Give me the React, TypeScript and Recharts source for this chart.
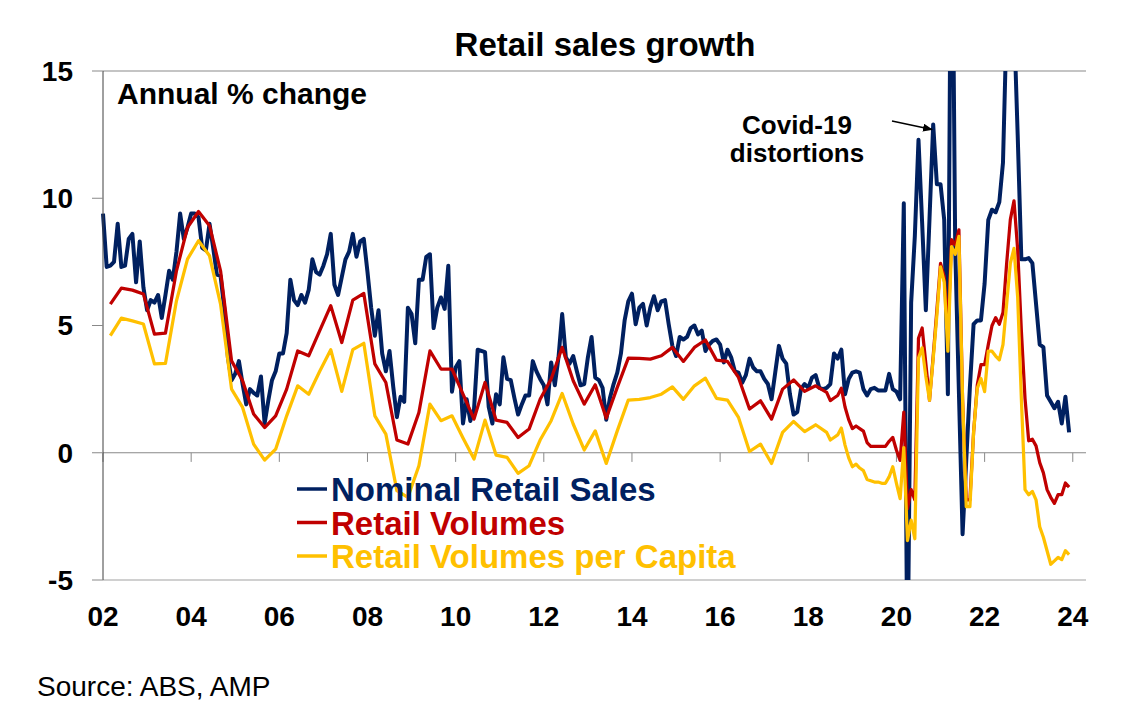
import React from "react";
import { Line, LineChart, ReferenceLine, XAxis, YAxis } from "recharts";

const FONT = '"Liberation Sans", Arial, Helvetica, sans-serif';

const START_YEAR = 2002;
// volumes are quarterly (Mar, Jun, Sep, Dec) up to Jun 2018, monthly after that
const MONTHLY_FROM = 198;

// Nominal retail sales, annual % change, Jan 2002 - Dec 2023
const nominalSales = [
    9.4, 7.3, 7.35, 7.5, 9.0, 7.3, 7.35, 8.4, 8.6, 6.7,
    8.3, 6.5, 5.6, 6.0, 5.9, 6.2, 5.3, 6.2, 7.15, 6.8,
    7.9, 9.4, 8.4, 8.85, 9.4, 9.4, 9.25, 8.05, 7.95, 9.0,
    8.05, 7.0, 6.95, 5.7, 3.75, 2.85, 3.1, 3.6, 2.7, 1.9,
    2.5, 2.35, 2.25, 3.0, 1.15, 2.05, 2.85, 3.2, 3.9, 3.9,
    4.7, 6.8, 6.0, 5.8, 6.2, 5.9, 6.4, 7.6, 7.1, 7.0,
    7.35, 7.8, 8.6, 6.6, 6.2, 6.9, 7.6, 7.9, 8.6, 7.7,
    8.3, 8.4, 7.1, 5.7, 4.6, 5.6, 3.9, 3.2, 4.0, 2.6,
    1.4, 2.2, 2.0, 5.7, 5.45, 4.3, 6.8, 6.8, 7.7, 7.8,
    4.9, 5.7, 6.1, 5.65, 7.35, 2.4, 3.35, 3.6, 1.15, 2.1,
    1.25, 1.7, 4.05, 4.0, 3.95, 1.8, 1.15, 2.3, 1.9, 3.75,
    2.9, 2.85, 2.15, 1.5, 1.9, 2.25, 2.25, 3.6, 3.2, 2.9,
    2.65, 1.9, 3.55, 2.65, 3.75, 5.45, 3.75, 3.5, 3.8, 3.2,
    2.65, 2.7, 3.75, 4.55, 2.95, 2.85, 2.55, 1.3, 2.15, 2.7,
    3.15, 3.9, 5.2, 5.95, 6.25, 5.05, 5.7, 5.85, 5.0, 5.7,
    6.15, 5.6, 5.95, 6.0, 5.05, 4.2, 3.8, 4.55, 4.45, 4.55,
    4.9, 5.0, 4.65, 4.8, 4.0, 4.25, 4.4, 4.45, 4.25, 3.55,
    4.05, 3.75, 3.2, 3.15, 2.75, 3.05, 3.7, 3.35, 3.2, 3.2,
    2.9, 2.7, 2.1, 3.15, 4.2, 3.7, 3.5, 2.3, 1.5, 1.6,
    2.5, 2.7, 2.55, 2.95, 3.05, 2.55, 2.5, 2.55, 2.7, 3.9,
    3.7, 4.05, 2.3, 2.9, 3.15, 3.2, 3.15, 2.5, 2.25, 2.5,
    2.55, 2.45, 2.45, 2.45, 3.1, 2.5, 2.4, 2.1, 9.8, -9.0,
    5.9, 8.5, 12.3, 9.0, 5.6, 9.2, 12.9, 10.55, 10.55, 9.15,
    2.3, 25.0, 8.0, 2.4, -3.2, -0.3, 2.6, 5.05, 5.2, 5.2,
    6.65, 9.15, 9.55, 9.45, 9.85, 11.4, 17.0, 19.0, 17.0, 12.5,
    7.6, 7.6, 7.65, 7.45, 5.85, 4.25, 4.15, 2.25, 2.0, 1.75,
    2.0, 1.15, 2.2, 0.8,
];

// Retail volumes, quarterly Mar 2002 - Jun 2018
const volumesQuarterly = [
    5.84, 6.47, 6.39, 6.24, 4.66, 4.7, 7.15, 8.85,
    9.48, 8.92, 7.15, 3.61, 2.83, 1.52, 0.99, 1.45,
    2.5, 4.0, 3.81, 4.8, 5.78, 4.33, 6.0, 6.26,
    3.49, 2.76, 0.5, 0.34, 1.58, 4.0, 3.29, 3.29,
    2.3, 1.32, 2.76, 1.28, 1.19, 0.6, 0.93, 2.1,
    2.9, 4.14, 2.83, 1.91, 2.67, 1.36, 2.57, 3.72,
    3.71, 3.68, 3.81, 4.14, 3.59, 4.14, 4.43, 3.64,
    3.59, 2.96, 1.72, 2.04, 1.32, 2.5, 2.86, 2.41,
    2.63, 2.37,
];

// Retail volumes, monthly Jul 2018 - Dec 2023
const volumesMonthly = [
    2.05, 2.15, 2.25, 2.54, 1.8, 1.3, 0.95, 1.05, 0.95, 0.85,
    0.4, 0.25, 0.25, 0.25, 0.25, 0.25, 0.45, 0.6, 0.1, -0.3,
    1.6, -2.2, -1.45, -1.85, 4.5, 4.9, 3.5, 2.06, 3.8, 5.6,
    7.44, 6.92, 4.8, 8.37, 8.17, 8.76, 2.1, -1.85, -1.85, 0.8,
    2.66, 3.46, 3.46, 4.25, 4.99, 5.31, 5.05, 5.51, 7.44, 9.16,
    9.9, 7.98, 4.8, 2.13, 0.47, 0.53, 0.27, -0.39, -0.79, -1.45,
    -1.75, -1.99, -1.65, -1.65, -1.19, -1.35,
];

// Retail volumes per capita, quarterly Mar 2002 - Jun 2018
const perCapitaQuarterly = [
    4.6, 5.29, 5.18, 5.06, 3.49, 3.51, 5.97, 7.61,
    8.33, 7.74, 5.84, 2.5, 1.78, 0.34, -0.29, 0.14,
    1.45, 2.63, 2.3, 3.2, 4.05, 2.41, 4.05, 4.3,
    1.45, 0.73, -1.49, -1.75, -0.51, 1.91, 1.26, 1.45,
    0.58, -0.25, 1.28, -0.09, -0.18, -0.81, -0.51, 0.5,
    1.26, 2.33, 1.13, 0.11, 0.86, -0.42, 0.86, 2.07,
    2.1, 2.17, 2.3, 2.59, 2.1, 2.63, 2.93, 2.14,
    2.07, 1.39, 0.05, 0.34, -0.42, 0.8, 1.23, 0.83,
    1.1, 0.8,
];

// Retail volumes per capita, monthly Jul 2018 - Dec 2023
const perCapitaMonthly = [
    0.5, 0.6, 0.7, 0.97, 0.3, -0.2, -0.55, -0.45, -0.6, -0.7,
    -1.05, -1.1, -1.15, -1.15, -1.2, -1.2, -0.95, -0.55, -1.2, -1.8,
    0.2, -3.45, -2.65, -3.38, 3.72, 4.12, 3.0, 2.06, 3.7, 5.4,
    7.3, 6.7, 3.99, 8.1, 7.8, 8.5, 2.1, -2.12, -2.12, 0.8,
    2.53, 2.92, 2.4, 3.99, 3.99, 3.8, 3.65, 4.25, 5.85, 7.44,
    8.03, 6.11, 2.13, -1.45, -1.65, -1.52, -1.85, -2.91, -3.32, -3.85,
    -4.38, -4.25, -4.11, -4.2, -3.85, -4.0,
];

const yearTicks = [2002, 2004, 2006, 2008, 2010, 2012, 2014, 2016, 2018, 2020, 2022, 2024];
const valueTicks = [-5, 0, 5, 10, 15];

const series = [
    { key: "nominal", name: "Nominal Retail Sales", color: "#002060", width: 4 },
    { key: "volumes", name: "Retail Volumes", color: "#C00000", width: 3.25 },
    { key: "perCapita", name: "Retail Volumes per Capita", color: "#FFC000", width: 3.25 },
];

const volumeAt = (quarterly: number[], monthly: number[], i: number) => {
    if (i >= MONTHLY_FROM) return monthly[i - MONTHLY_FROM];
    return i % 3 === 2 ? quarterly[(i - 2) / 3] : null;
};

const chartData = nominalSales.map((value, i) => ({
    date: START_YEAR + i / 12,
    nominal: value,
    volumes: volumeAt(volumesQuarterly, volumesMonthly, i),
    perCapita: volumeAt(perCapitaQuarterly, perCapitaMonthly, i),
}));

const YearTick = (props: any) => {
    const { x, y, payload } = props;
    return (
        <text x={x} y={y} dy={46} textAnchor="middle" fontSize={28} fontWeight="bold" fontFamily={FONT} fill="#000">
            {String(payload.value).slice(2)}
        </text>
    );
};

const boldText = { fontFamily: FONT, fontWeight: "bold" as const, fill: "#000" };

export default function App() {
    return (
        <div style={{ position: "fixed", left: 0, top: 0, width: 1139, height: 718, background: "#fff" }}>
            <LineChart width={1139} height={718} data={chartData} margin={{ top: 71, right: 53, bottom: 98, left: 42 }}>
                <XAxis
                    dataKey="date"
                    type="number"
                    domain={[2002, 2024.3]}
                    ticks={yearTicks}
                    height={40}
                    axisLine={false}
                    tickLine={false}
                    tickSize={0}
                    tickMargin={0}
                    tick={<YearTick />}
                />
                <YAxis
                    type="number"
                    domain={[-5, 15]}
                    ticks={valueTicks}
                    allowDataOverflow
                    width={61}
                    tickSize={11}
                    tickMargin={19}
                    axisLine={{ stroke: "#404040" }}
                    tickLine={{ stroke: "#898989" }}
                    tick={{ ...boldText, fontSize: 28 }}
                />
                <ReferenceLine y={15} stroke="#898989" />
                <ReferenceLine y={-5} stroke="#d0d0d0" strokeWidth={2} />
                <ReferenceLine y={0} stroke="#898989" />
                {yearTicks.map((t) => (
                    <ReferenceLine key={t} segment={[{ x: t, y: 0 }, { x: t, y: -0.36 }]} stroke="#898989" />
                ))}
                {series.map((s) => (
                    <Line
                        key={s.key}
                        type="linear"
                        dataKey={s.key}
                        name={s.name}
                        stroke={s.color}
                        strokeWidth={s.width}
                        strokeLinejoin="round"
                        dot={false}
                        activeDot={false}
                        connectNulls
                        isAnimationActive={false}
                    />
                ))}
            </LineChart>

            <svg width={1139} height={718} style={{ position: "absolute", left: 0, top: 0, pointerEvents: "none" }}>
                <defs>
                    <marker id="arrowHead" markerWidth="10" markerHeight="8" refX="9" refY="4" orient="auto" markerUnits="userSpaceOnUse">
                        <path d="M0,0 L10,4 L0,8 Z" fill="#000" />
                    </marker>
                </defs>
                <text x={605} y={56} textAnchor="middle" fontSize={33} {...boldText}>
                    Retail sales growth
                </text>
                <text x={117} y={104} fontSize={30} {...boldText}>
                    Annual % change
                </text>
                <text x={797} y={134} textAnchor="middle" fontSize={26} {...boldText}>
                    Covid-19
                </text>
                <text x={797} y={162} textAnchor="middle" fontSize={26} {...boldText}>
                    distortions
                </text>
                <line x1={892} y1={121} x2={932} y2={129.5} stroke="#000" strokeWidth={1.5} markerEnd="url(#arrowHead)" />

                {series.map((s, i) => (
                    <g key={s.key}>
                        <line x1={297} x2={327} y1={489 + i * 33.5} y2={489 + i * 33.5} stroke={s.color} strokeWidth={3.5} />
                        <text x={331} y={501 + i * 33.5} fontSize={33} fontFamily={FONT} fontWeight="bold" fill={s.color}>
                            {s.name}
                        </text>
                    </g>
                ))}

                <text x={37} y={696} fontSize={28} fontFamily={FONT} fill="#000">
                    Source: ABS, AMP
                </text>
            </svg>
        </div>
    );
}
